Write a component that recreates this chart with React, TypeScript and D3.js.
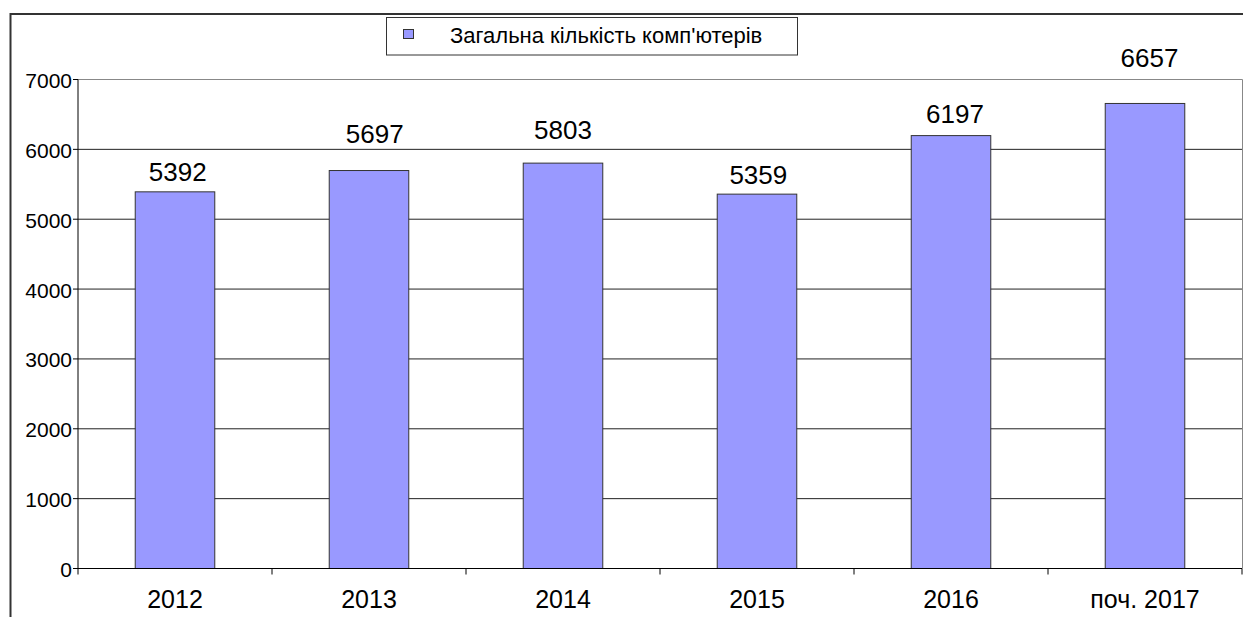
import React from "react";
import * as d3 from "d3";

const categories = ["2012", "2013", "2014", "2015", "2016", "поч. 2017"];
const values = [5392, 5697, 5803, 5359, 6197, 6657];
const yTicks = [0, 1000, 2000, 3000, 4000, 5000, 6000, 7000];
const seriesName = "Загальна кількість комп'ютерів";

// label placement tweaks (pixels) – layout only
const labelLift = [11, 28, 24.6, 10.6, 13, 36.5];
const labelShift = [2.7, 5.7, 0, 1.3, 4, 4.5];

const W = 1243;
const H = 617;
const FONT = "'Liberation Sans', Arial, sans-serif";
const BAR = "#9999FF";

export default function App() {
  const left = 78;
  const right = 1242;
  const top = 79.5;
  const bottom = 568.5;

  const x = d3.scaleBand<string>().domain(categories).range([left, right]).padding(0);
  const y = d3.scaleLinear().domain([0, 7000]).range([bottom, top]);
  const step = x.step();
  const barW = step * 0.41;

  const boundaries = d3.range(categories.length + 1).map((i) => left + i * step);

  return (
    <svg
      width={W}
      height={H}
      style={{ position: "absolute", left: 0, top: 0, background: "#fff" }}
      fontFamily={FONT}
    >
      <rect x={0} y={0} width={W} height={H} fill="#fff" />
      {/* outer frame (clipped by image edges) */}
      <rect x={10.5} y={14} width={W + 20} height={H + 20} fill="none" stroke="#333" strokeWidth={2} />

      {/* legend */}
      <rect x={386.5} y={17.5} width={411} height={37.5} fill="#fff" stroke="#333" strokeWidth={1} />
      <rect x={403.5} y={29.5} width={10} height={9} fill={BAR} stroke="#333" strokeWidth={1} />
      <text x={450} y={43} fontSize={22} fill="#000">
        {seriesName}
      </text>

      {/* plot area border (top/right) */}
      <line x1={left} x2={right + 0.5} y1={y(7000)} y2={y(7000)} stroke="#888" strokeWidth={1} />
      <line x1={right + 0.5} x2={right + 0.5} y1={y(7000)} y2={bottom} stroke="#888" strokeWidth={1} />

      {/* gridlines */}
      {yTicks
        .filter((t) => t > 0 && t < 7000)
        .map((t) => (
          <line key={"g" + t} x1={left} x2={right} y1={y(t)} y2={y(t)} stroke="#222" strokeWidth={1} />
        ))}

      {/* bars */}
      {values.map((v, i) => {
        const cx = (x(categories[i]) as number) + step / 2;
        return (
          <rect
            key={"b" + i}
            x={cx - barW / 2}
            y={y(v)}
            width={barW}
            height={bottom - y(v)}
            fill={BAR}
            stroke="#333"
            strokeWidth={1}
          />
        );
      })}

      {/* value labels */}
      {values.map((v, i) => {
        const cx = (x(categories[i]) as number) + step / 2;
        return (
          <text
            key={"v" + i}
            x={cx + labelShift[i]}
            y={y(v) - labelLift[i]}
            textAnchor="middle"
            fontSize={26}
            fill="#000"
          >
            {v}
          </text>
        );
      })}

      {/* axes */}
      <line x1={left} x2={left} y1={top} y2={bottom} stroke="#000" strokeWidth={1} />
      <line x1={left} x2={right} y1={bottom} y2={bottom} stroke="#000" strokeWidth={1} />
      {yTicks.map((t) => (
        <g key={"y" + t}>
          <line x1={left - 5} x2={left} y1={y(t)} y2={y(t)} stroke="#000" strokeWidth={1} />
          <text x={72} y={y(t) + 8.5} textAnchor="end" fontSize={21} fill="#000">
            {t}
          </text>
        </g>
      ))}
      {boundaries.map((bx, i) => (
        <line key={"xt" + i} x1={bx} x2={bx} y1={bottom} y2={bottom + 6} stroke="#000" strokeWidth={1} />
      ))}
      {categories.map((c) => (
        <text
          key={"x" + c}
          x={(x(c) as number) + step / 2}
          y={607.5}
          textAnchor="middle"
          fontSize={25}
          fill="#000"
        >
          {c}
        </text>
      ))}
    </svg>
  );
}
